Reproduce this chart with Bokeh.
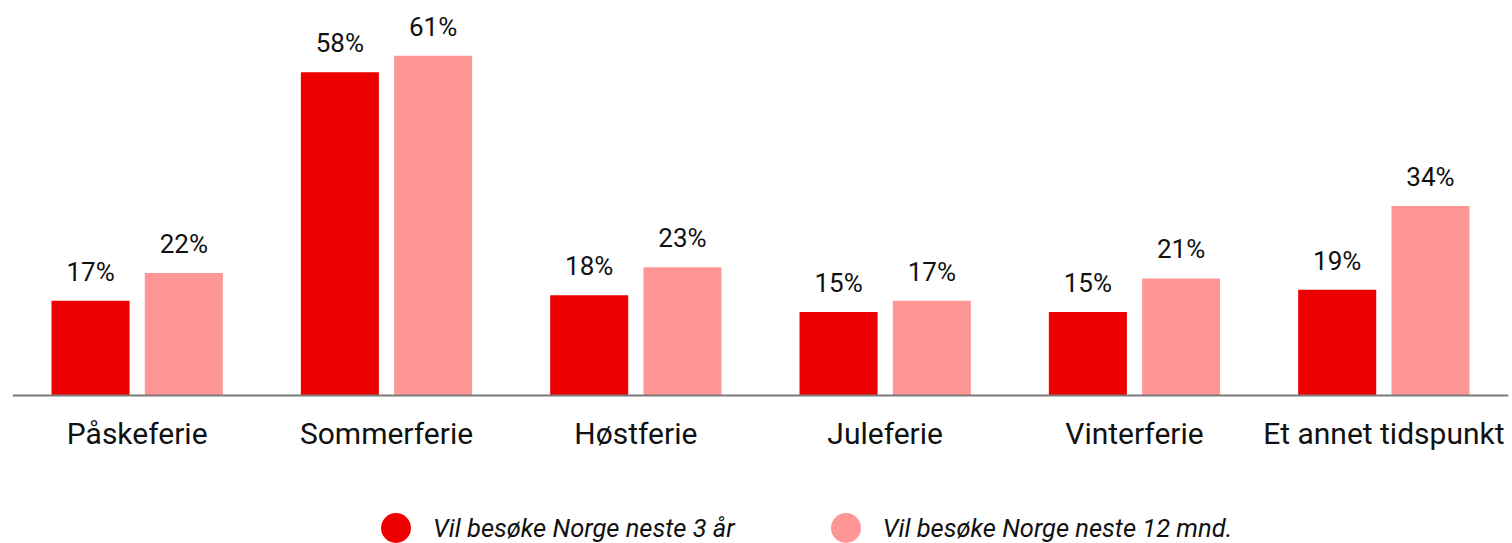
from bokeh.plotting import figure
from bokeh.models import ColumnDataSource, FactorRange, Range1d, Legend, LegendItem, Span
from bokeh.transform import dodge
from bokeh.core.properties import value
from bokeh.embed import file_html
from bokeh.resources import INLINE

categories = ["Påskeferie", "Sommerferie", "Høstferie", "Juleferie", "Vinterferie", "Et annet tidspunkt"]
series_names = ["Vil besøke Norge neste 3 år", "Vil besøke Norge neste 12 mnd."]
vals_3yr = [17, 58, 18, 15, 15, 19]
vals_12m = [22, 61, 23, 17, 21, 34]

colors = ["#EE0000", "#FF9696"]
FONT = "Roboto"

src = ColumnDataSource(dict(
    cat=categories,
    zero=[0] * len(categories),
    a=vals_3yr,
    b=vals_12m,
    a_lbl=[f"{v}%" for v in vals_3yr],
    b_lbl=[f"{v}%" for v in vals_12m],
))

p = figure(x_range=FactorRange(*categories, range_padding=0),
           y_range=Range1d(-26.57, 70.9),
           width=1512, height=543,
           output_backend="svg", toolbar_location=None,
           x_axis_location=None, y_axis_location=None, title=None,
           min_border_left=12, min_border_right=4,
           min_border_top=0, min_border_bottom=0)

off = 0.187
bw = 0.313
r1 = p.vbar(x=dodge("cat", -off, range=p.x_range), top="a", width=bw, source=src,
            fill_color=colors[0], line_color=None)
r2 = p.vbar(x=dodge("cat", off, range=p.x_range), top="b", width=bw, source=src,
            fill_color=colors[1], line_color=None)

# baseline (x axis line)
p.add_layout(Span(location=0, dimension="width", line_color="#7a7a7a", line_width=2))

# value labels
for col, lbl, o in (("a", "a_lbl", -off), ("b", "b_lbl", off)):
    p.text(x=dodge("cat", o, range=p.x_range), y=col, text=lbl, source=src,
           text_align="center", text_baseline="alphabetic", y_offset=-29,
           text_font=value(FONT), text_font_size="26px", text_color="#111111")

# category labels
p.text(x="cat", y="zero", text="cat", source=src,
       text_align="center", text_baseline="alphabetic", y_offset=38,
       text_font=value(FONT), text_font_size="30px", text_color="#111111")

p.grid.visible = False
p.outline_line_color = None
p.background_fill_color = "white"
p.border_fill_color = "white"

# legend markers: zero-size circle renderers (invisible in plot, drawn in legend)
l1 = p.scatter(x="cat", y="a", source=src, marker="circle", size=0,
               fill_color=colors[0], line_color=None)
l2 = p.scatter(x="cat", y="b", source=src, marker="circle", size=0,
               fill_color=colors[1], line_color=None)
legend = Legend(items=[LegendItem(label=series_names[0], renderers=[l1]),
                       LegendItem(label=series_names[1], renderers=[l2])],
                orientation="horizontal", location=(346, -22),
                glyph_width=75, glyph_height=75, label_standoff=0,
                spacing=73, padding=0, margin=0,
                border_line_color=None, background_fill_alpha=0,
                label_text_font=FONT, label_text_font_style="italic",
                label_text_font_size="25.5px", label_text_color="#111111")
p.add_layout(legend, "center")

open("out.html", "w").write(file_html(p, INLINE))
